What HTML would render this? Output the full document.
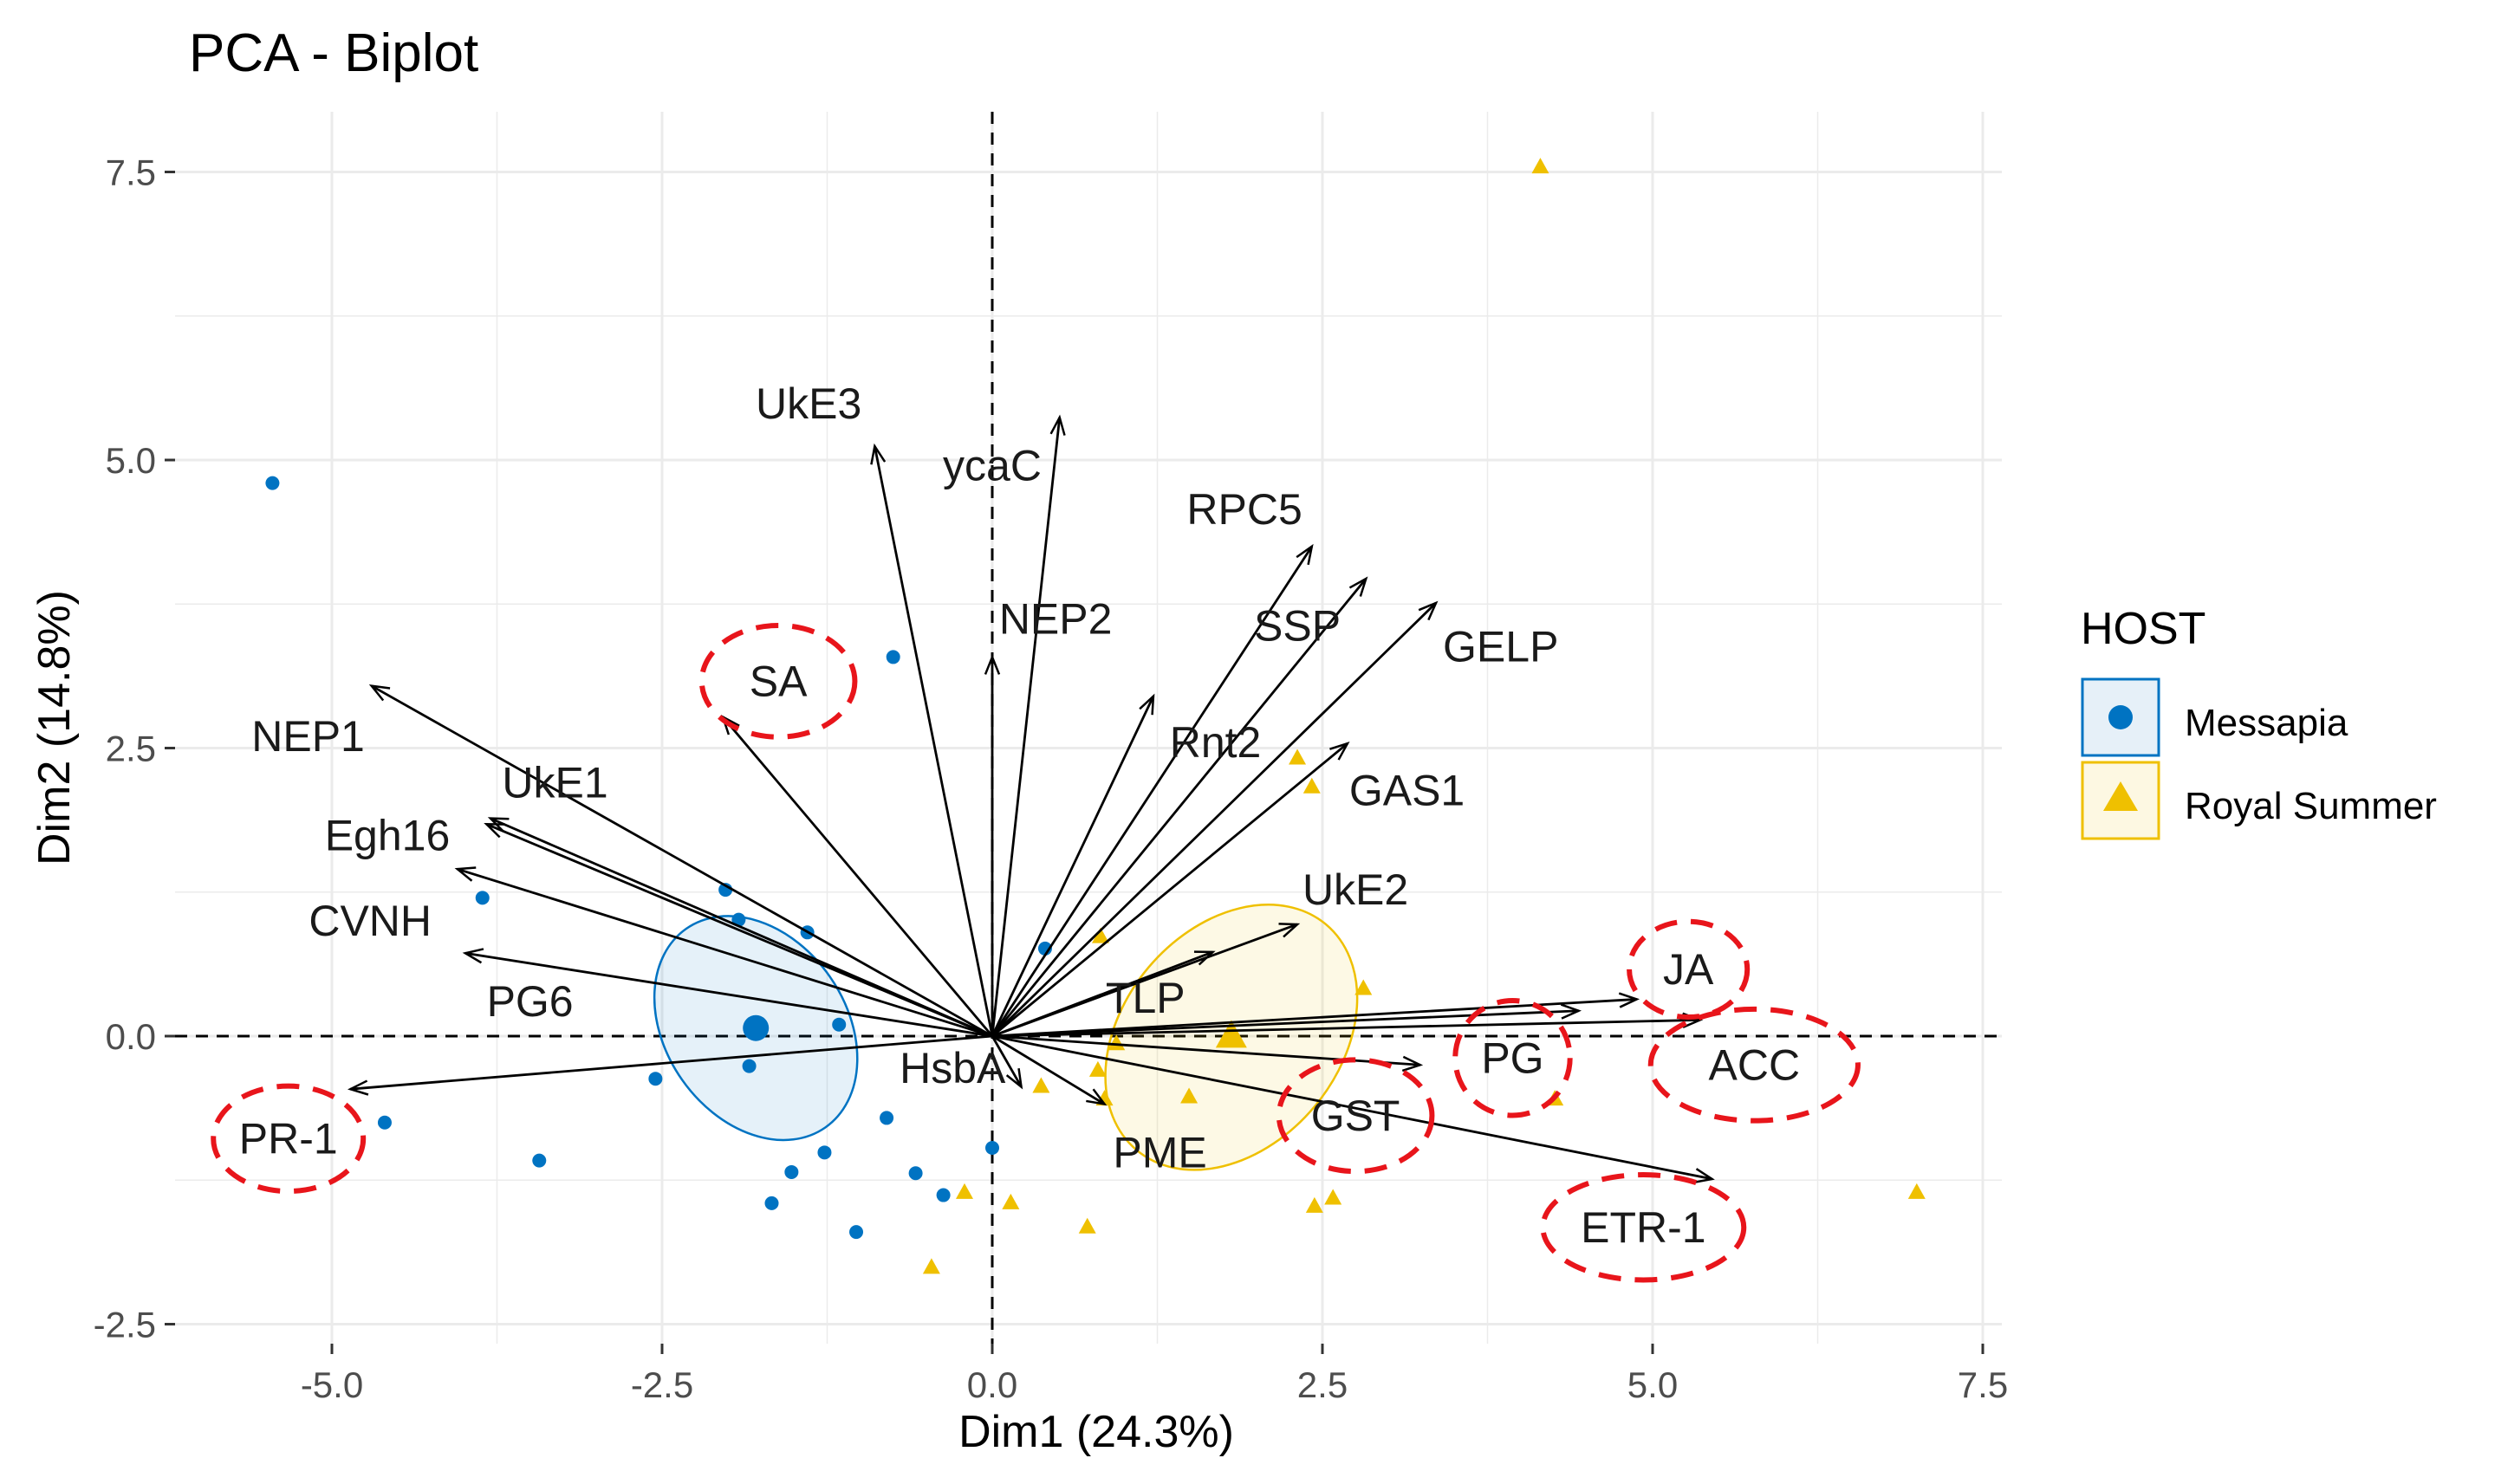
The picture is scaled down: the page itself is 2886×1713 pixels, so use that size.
<!DOCTYPE html>
<html><head><meta charset="utf-8"><style>
html,body{margin:0;padding:0;background:#fff}
svg{display:block;font-family:"Liberation Sans",Arial,sans-serif}
</style></head><body>
<svg id="chart" width="2886" height="1713" viewBox="0 0 2886 1713">
<text x="218" y="82" font-size="62" fill="#000">PCA - Biplot</text>
<g id="grid"></g><g id="ellipses"></g><g id="points"></g><g id="arrows"></g><g id="labels"></g><g id="axes"></g>
<text x="1265" y="1670" font-size="52" text-anchor="middle" fill="#000">Dim1 (24.3%)</text>
<text transform="translate(80,840) rotate(-90)" font-size="52" text-anchor="middle" fill="#000">Dim2 (14.8%)</text>
<g>
<text x="2401" y="743" font-size="52" fill="#000">HOST</text>
<rect x="2403" y="784" width="88" height="88" fill="#e6f0f8" stroke="#0073c2" stroke-width="3"/>
<circle cx="2447" cy="828" r="14" fill="#0073c2"/>
<text x="2521" y="849" font-size="44" fill="#000">Messapia</text>
<rect x="2403" y="880" width="88" height="88" fill="#fdf8e2" stroke="#efc000" stroke-width="3"/>
<polygon points="2447,902 2467,936 2427,936" fill="#efc000"/>
<text x="2521" y="945" font-size="44" fill="#000">Royal Summer</text>
</g>
<defs><marker id="ah" markerWidth="30" markerHeight="30" refX="22" refY="10" orient="auto" markerUnits="userSpaceOnUse"><path d="M2,2 L22,10 L2,18" fill="none" stroke="#000" stroke-width="2.5"/></marker></defs>
</svg>
<script>
const xTicks=[-5,-2.5,0,2.5,5,7.5];
const yTicks=[-2.5,0,2.5,5,7.5];
const xTickLabels=["-5.0","-2.5","0.0","2.5","5.0","7.5"];
const yTickLabels=["-2.5","0.0","2.5","5.0","7.5"];
const varNames=["UkE3","ycaC","RPC5","SSP","GELP","NEP2","Rnt2","GAS1","NEP1","UkE1","Egh16","CVNH","PG6","SA","UkE2","TLP","JA","ACC","PG","GST","ETR-1","PR-1","HsbA","PME"];
const varX=[-0.89,0.51,2.42,2.83,3.36,0,1.22,2.69,-4.70,-3.80,-3.83,-4.05,-3.99,-2.04,2.31,1.67,4.88,5.36,4.44,3.24,5.45,-4.86,0.22,0.85];
const varY=[5.12,5.37,4.25,3.97,3.76,3.29,2.95,2.54,3.04,1.89,1.84,1.45,0.72,2.77,0.97,0.73,0.32,0.14,0.22,-0.25,-1.24,-0.46,-0.44,-0.59];
const labX=[-1.39,0,1.91,2.31,3.85,0.48,1.69,3.14,-5.18,-3.31,-4.58,-4.71,-3.50,-1.62,2.75,1.16,5.27,5.77,3.94,2.75,4.93,-5.33,-0.30,1.27];
const labY=[5.49,4.95,4.57,3.56,3.38,3.62,2.55,2.13,2.6,2.2,1.74,1.0,0.30,3.08,1.27,0.33,0.58,-0.25,-0.19,-0.69,-1.66,-0.89,-0.28,-1.01];
const circled=["SA","PR-1","JA","ACC","PG","GST","ETR-1"];
const circRx=[48,47,37,65,36,48,63];
const circRy=[35,33,30,35,36,35,33];
const mesX=[-5.45,-0.75,-2.02,-1.92,-1.40,-3.86,0.40,-1.16,-1.84,-2.55,-4.60,-0.80,0.0,-1.27,-3.43,-1.52,-1.67,-0.58,-0.37,-1.03];
const mesY=[4.80,3.29,1.27,1.01,0.90,1.20,0.76,0.10,-0.26,-0.37,-0.75,-0.71,-0.97,-1.01,-1.08,-1.18,-1.45,-1.19,-1.38,-1.70];
const royX=[4.15,2.31,2.42,0.82,2.81,0.94,0.80,0.37,1.49,0.85,4.26,-0.21,0.14,0.72,-0.46,2.58,2.44,7.00];
const royY=[7.54,2.41,2.16,0.86,0.41,-0.07,-0.30,-0.44,-0.53,-0.55,-0.55,-1.36,-1.45,-1.66,-2.01,-1.41,-1.48,-1.36];
const mesMean=[-1.79,0.07];
const royMean=[1.81,-0.01];

const X=v=>1145+v*152.4, Y=v=>1196-v*133;
const NS="http://www.w3.org/2000/svg";
function mk(tag,parent,attrs){const e=document.createElementNS(NS,tag);for(const k in attrs)e.setAttribute(k,attrs[k]);document.getElementById(parent).appendChild(e);return e;}
const L=202,R=2310,T=129,B=1551;
for(let v=-6.25;v<=8.75;v+=1.25){const major=Math.abs(v/2.5-Math.round(v/2.5))<1e-6;const x=X(v);if(x<L||x>R)continue;
 const g=mk('line','grid',{x1:x,x2:x,y1:T,y2:B,stroke:'#ebebeb','stroke-width':major?3:1.5});
 
 }
for(let v=-2.5;v<=8.75;v+=1.25){const major=Math.abs(v/2.5-Math.round(v/2.5))<1e-6;const y=Y(v);if(y<T||y>B+2)continue;
 const g=mk('line','grid',{x1:L,x2:R,y1:y,y2:y,stroke:'#ebebeb','stroke-width':major?3:1.5});
 
 }
let z=mk('line','grid',{x1:X(0),x2:X(0),y1:T,y2:B,stroke:'#000','stroke-width':3,'stroke-dasharray':'14,10'});


z=mk('line','grid',{x1:L,x2:R,y1:Y(0),y2:Y(0),stroke:'#000','stroke-width':3,'stroke-dasharray':'14,10'});


xTicks.forEach((v,i)=>{mk('line','axes',{x1:X(v),x2:X(v),y1:B,y2:B+12,stroke:'#333','stroke-width':3});
 const t=mk('text','axes',{x:X(v),y:B+62,'font-size':42,'text-anchor':'middle',fill:'#4d4d4d'});t.textContent=xTickLabels[i];
 
 });
yTicks.forEach((v,i)=>{mk('line','axes',{x1:L-12,x2:L,y1:Y(v),y2:Y(v),stroke:'#333','stroke-width':3});
 const t=mk('text','axes',{x:L-22,y:Y(v)+15,'font-size':42,'text-anchor':'end',fill:'#4d4d4d'});t.textContent=yTickLabels[i];
 
 });
let e=mk('ellipse','ellipses',{cx:X(mesMean[0]),cy:Y(mesMean[1]),rx:140,ry:104,transform:`rotate(55 ${X(mesMean[0])} ${Y(mesMean[1])})`,fill:'#0073c2','fill-opacity':0.1,stroke:'#0073c2','stroke-width':2.5});


e=mk('ellipse','ellipses',{cx:X(royMean[0]),cy:Y(royMean[1]),rx:170,ry:125,transform:`rotate(-50 ${X(royMean[0])} ${Y(royMean[1])})`,fill:'#efc000','fill-opacity':0.1,stroke:'#efc000','stroke-width':2.5});


mesX.forEach((x,i)=>{const c=mk('circle','points',{cx:X(x),cy:Y(mesY[i]),r:8,fill:'#0073c2'});
 
 });
royX.forEach((x,i)=>{const px=X(x),py=Y(royY[i]);const p=mk('polygon','points',{points:`${px},${py-11} ${px+10},${py+7} ${px-10},${py+7}`,fill:'#efc000'});
 
 });
let m=mk('circle','points',{cx:X(mesMean[0]),cy:Y(mesMean[1]),r:15,fill:'#0073c2'});


{const px=X(royMean[0]),py=Y(royMean[1]);m=mk('polygon','points',{points:`${px},${py-20} ${px+18},${py+12} ${px-18},${py+12}`,fill:'#efc000'});}


varNames.forEach((n,i)=>{const a=mk('line','arrows',{x1:X(0),y1:Y(0),x2:X(varX[i]),y2:Y(varY[i]),stroke:'#000','stroke-width':2.8,'marker-end':'url(#ah)'});
 
 
 const t=mk('text','labels',{x:X(labX[i]),y:Y(labY[i])+17,'font-size':50,'text-anchor':'middle',fill:'#1a1a1a'});t.textContent=n;
 
 
 const ci=circled.indexOf(n);
 if(ci>=0){const c=mk('ellipse','labels',{cx:X(labX[i]),cy:Y(labY[i]),rx:circRx[ci]*1.84,ry:circRy[ci]*1.84,fill:'none',stroke:'#e8151b','stroke-width':6,'stroke-dasharray':'26,16'});
  
  }
});
</script>
</body></html>
